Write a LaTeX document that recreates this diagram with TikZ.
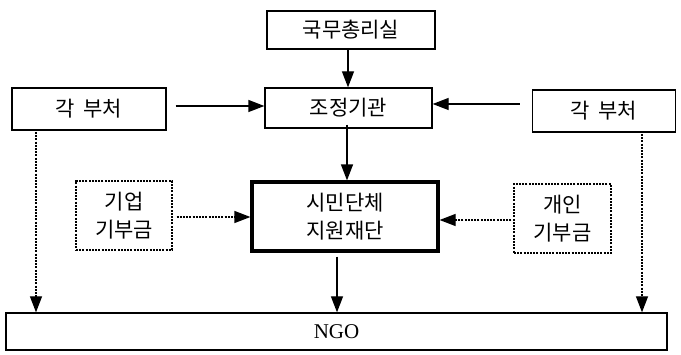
\documentclass[tikz,border=0pt]{standalone}
\usepackage{fontspec}
\setmainfont{Liberation Serif}
\newfontfamily\kr{Noto Sans CJK KR}
\usetikzlibrary{arrows.meta,calc}
\begin{document}
\begin{tikzpicture}[x=1pt,y=-1pt,
  box/.style={draw,line width=1.3pt,inner sep=0pt,font=\kr\fontsize{21}{28}\selectfont,align=center},
  thickbox/.style={box,line width=3.2pt},
  dbox/.style={draw,line width=1.2pt,dash pattern=on 2pt off 1.2pt,inner sep=0pt,font=\kr\fontsize{21}{28}\selectfont,align=center},
  arr/.style={line width=1.3pt,-{Triangle[length=16pt,width=12pt]}},
  darr/.style={line width=1.2pt,dash pattern=on 2pt off 1.2pt,-{Triangle[length=16pt,width=12pt]}}]
\useasboundingbox (0,0) rectangle (681,355);
\node[box,minimum width=168pt,minimum height=38pt] (pm) at (351,30) {국무총리실};
\node[box,minimum width=167pt,minimum height=40pt] (jj) at (348.5,108) {조정기관};
\node[box,minimum width=154pt,minimum height=42pt] (lb) at (89,109) {각\hspace{0.4em}부처};
\node[box,minimum width=143pt,minimum height=42pt] (rb) at (604,111) {각\hspace{0.4em}부처};
\node[thickbox,minimum width=186pt,minimum height=69pt] (sm) at (345,216.5) {시민단체\\지원재단};
\node[dbox,minimum width=96pt,minimum height=69pt] (gy) at (124,215.5) {기업\\기부금};
\node[dbox,minimum width=97pt,minimum height=69pt] (gi) at (562.5,218.5) {개인\\기부금};
\node[box,minimum width=661pt,minimum height=37pt,font=\fontsize{21}{24}\selectfont] (ngo) at (336.5,331.5) {NGO};
\coordinate (l1) at (36,132);
\coordinate (r1) at (642,134);
\draw[arr] ([xshift=-3pt]pm.south) -- ([xshift=-3pt]pm.south |- jj.north);
\draw[arr,shorten <=9pt] (lb.east |- 0,106) -- (jj.west |- 0,106);
\draw[arr,shorten <=12pt] (rb.west |- 0,104) -- (jj.east |- 0,104);
\draw[arr] ([xshift=-1.5pt,yshift=4pt]jj.south) -- ([xshift=-1.5pt]jj.south |- sm.north);
\draw[darr,shorten <=4pt] (gy.east |- 0,217) -- (sm.west |- 0,217);
\draw[darr,shorten <=2pt] (gi.west |- 0,220) -- (sm.east |- 0,220);
\draw[arr,shorten <=4pt] ([xshift=-8pt]sm.south) -- ([xshift=-8pt]sm.south |- ngo.north);
\draw[darr] (l1) -- (l1 |- ngo.north);
\draw[darr] (r1) -- (r1 |- ngo.north);
\end{tikzpicture}
\end{document}
